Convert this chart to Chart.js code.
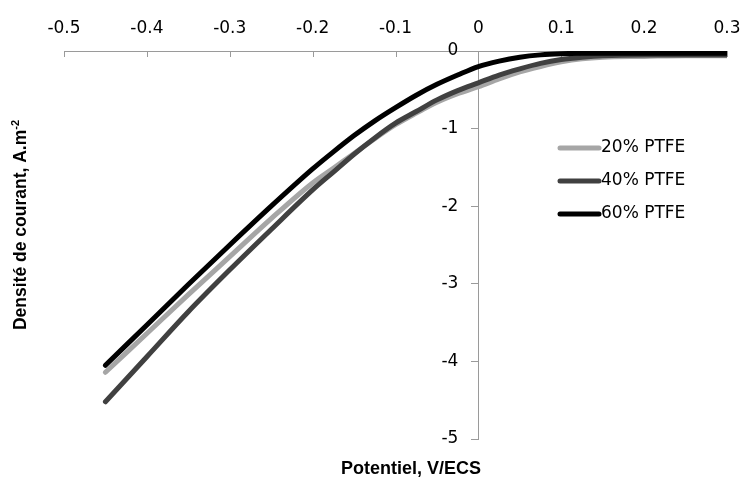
<!DOCTYPE html>
<html><head><meta charset="utf-8">
<script src="https://cdn.jsdelivr.net/npm/chart.js@4.4.0/dist/chart.umd.min.js"></script>
<style>html,body{margin:0;padding:0;background:#fff;} #wrap{width:741px;height:477px;}</style>
</head><body><div id="wrap"><canvas id="c" width="741" height="477"></canvas></div>
<script>
// ---- data ----
const potentials = [-0.45,-0.40,-0.35,-0.30,-0.25,-0.20,-0.175,-0.15,-0.125,-0.10,-0.075,-0.05,-0.025,0.00,0.025,0.05,0.075,0.10,0.125,0.15,0.20,0.25,0.30];
const ptfe20 = [-4.14,-3.64,-3.14,-2.65,-2.16,-1.70,-1.51,-1.32,-1.13,-0.95,-0.80,-0.66,-0.55,-0.46,-0.36,-0.27,-0.20,-0.14,-0.10,-0.08,-0.07,-0.06,-0.06];
const ptfe40 = [-4.52,-3.94,-3.36,-2.82,-2.30,-1.79,-1.56,-1.33,-1.12,-0.93,-0.78,-0.63,-0.51,-0.41,-0.31,-0.23,-0.16,-0.11,-0.08,-0.06,-0.05,-0.05,-0.05];
const ptfe60 = [-4.05,-3.53,-3.01,-2.50,-2.00,-1.52,-1.30,-1.09,-0.90,-0.73,-0.57,-0.43,-0.31,-0.20,-0.13,-0.08,-0.05,-0.035,-0.03,-0.03,-0.03,-0.03,-0.03];
const seriesNames = ['20% PTFE','40% PTFE','60% PTFE'];
const seriesColors = ['#A6A6A6','#404040','#000000'];
const xTicks = [-0.5,-0.4,-0.3,-0.2,-0.1,0,0.1,0.2,0.3];
const yTicks = [0,-1,-2,-3,-4,-5];
const xTitle = 'Potentiel, V/ECS';
const yTitle = 'Densité de courant, A.m';
const yTitleSup = '-2';

const axisGray = '#9a9a9a';
const tickFont = {family: 'DejaVu Sans', size: 17};

const toPts = arr => potentials.map((p, i) => ({x: p, y: arr[i]}));

const decor = {
  id: 'decor',
  beforeDatasetsDraw(chart) {
    const {ctx, chartArea, scales: {x}} = chart;
    ctx.save();
    ctx.strokeStyle = axisGray; ctx.lineWidth = 1;
    x.ticks.forEach(t => {
      const px = Math.round(x.getPixelForValue(t.value)) + 0.5;
      ctx.beginPath(); ctx.moveTo(px, chartArea.top); ctx.lineTo(px, chartArea.top + 6); ctx.stroke();
    });
    ctx.restore();
  },
  afterDraw(chart) {
    const {ctx, scales: {x, y}} = chart;
    ctx.save();
    ctx.fillStyle = '#000';
    // y tick labels, left of the axis crossing at x = 0
    const axisX = x.getPixelForValue(0);
    ctx.font = '17px "DejaVu Sans"';
    ctx.textAlign = 'right'; ctx.textBaseline = 'middle';
    yTicks.forEach(v => ctx.fillText(String(v), axisX - 7 - 13, y.getPixelForValue(v)));
    // x title
    ctx.font = 'bold 18px "Liberation Sans"';
    ctx.textAlign = 'center'; ctx.textBaseline = 'alphabetic';
    ctx.fillText(xTitle, 411, 474);
    // y title (rotated)
    ctx.translate(26, 225);
    ctx.rotate(-Math.PI / 2);
    ctx.font = 'bold 17.5px "Liberation Sans"';
    const w1 = ctx.measureText(yTitle).width;
    ctx.font = 'bold 11px "Liberation Sans"';
    const w2 = ctx.measureText(yTitleSup).width;
    const start = -(w1 + w2) / 2;
    ctx.textAlign = 'left';
    ctx.font = 'bold 17.5px "Liberation Sans"';
    ctx.fillText(yTitle, start, 0);
    ctx.font = 'bold 11px "Liberation Sans"';
    ctx.fillText(yTitleSup, start + w1, -7);
    ctx.setTransform(1, 0, 0, 1, 0, 0);
    // legend
    const lx0 = 560, lx1 = 599, ly0 = 148, step = 33;
    ctx.font = '17px "DejaVu Sans"';
    ctx.textBaseline = 'middle';
    chart.data.datasets.forEach((ds, i) => {
      const yy = ly0 + i * step;
      ctx.strokeStyle = ds.borderColor; ctx.lineWidth = 5; ctx.lineCap = 'round';
      ctx.beginPath(); ctx.moveTo(lx0, yy); ctx.lineTo(lx1, yy); ctx.stroke();
      ctx.fillStyle = '#000';
      ctx.fillText(ds.label, lx1 + 2, yy);
    });
    ctx.restore();
  }
};

new Chart(document.getElementById('c'), {
  type: 'line',
  data: {
    datasets: [
      {label: seriesNames[0], data: toPts(ptfe20), borderColor: seriesColors[0], order: 3},
      {label: seriesNames[1], data: toPts(ptfe40), borderColor: seriesColors[1], order: 2},
      {label: seriesNames[2], data: toPts(ptfe60), borderColor: seriesColors[2], order: 1}
    ]
  },
  options: {
    responsive: false,
    animation: false,
    layout: {padding: {left: 64, right: 14, top: 18.6, bottom: 38}},
    plugins: {legend: {display: false}, tooltip: {enabled: false}},
    elements: {
      point: {radius: 0},
      line: {borderWidth: 5, tension: 0.4, cubicInterpolationMode: 'monotone', borderCapStyle: 'round', borderJoinStyle: 'round', fill: false}
    },
    scales: {
      x: {
        type: 'linear', position: 'top', min: -0.5, max: 0.3,
        afterBuildTicks: s => { s.ticks = xTicks.map(v => ({value: v})); },
        ticks: {font: tickFont, color: '#000', padding: 0, maxRotation: 0, autoSkip: false, callback: v => String(v)},
        grid: {display: true, drawOnChartArea: false, drawTicks: true, tickLength: 12, tickColor: 'rgba(0,0,0,0)'},
        border: {display: true, color: axisGray, width: 1}
      },
      y: {
        type: 'linear', position: {x: 0}, min: -5, max: 0,
        afterBuildTicks: s => { s.ticks = yTicks.map(v => ({value: v})); },
        ticks: {display: false},
        grid: {display: true, drawOnChartArea: false, drawTicks: true, tickLength: 7, tickColor: axisGray},
        border: {display: true, color: axisGray, width: 1}
      }
    }
  },
  plugins: [decor]
});
</script>
</body></html>
